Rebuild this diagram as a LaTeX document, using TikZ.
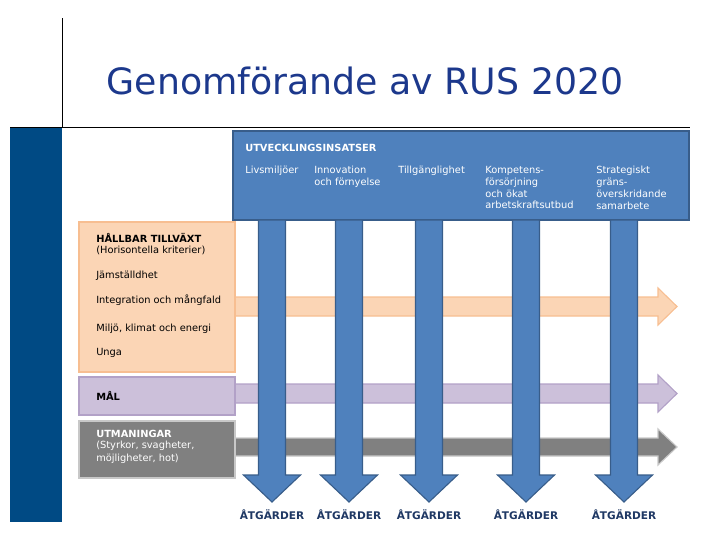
\documentclass[tikz,border=0pt]{standalone}
\usepackage{fontspec}
\setmainfont{DejaVu Sans}
\usepackage{xcolor}
\usetikzlibrary{positioning}

\definecolor{stripeblue}{RGB}{0,74,132}
\definecolor{titleblue}{RGB}{28,56,140}
\definecolor{insatsblue}{RGB}{79,129,189}
\definecolor{insatsline}{RGB}{56,93,138}
\definecolor{atgblue}{RGB}{31,56,100}
\definecolor{orangefill}{RGB}{251,213,181}
\definecolor{orangeline}{RGB}{247,190,145}
\definecolor{lilafill}{RGB}{204,192,218}
\definecolor{lilaline}{RGB}{178,161,199}
\definecolor{grafill}{RGB}{128,128,128}
\definecolor{graline}{RGB}{200,200,200}

\begin{document}
\begin{tikzpicture}[x=0.025cm, y=-0.025cm,
    panel/.style={draw=#1, line width=1.2pt},
    txt/.style={anchor=west, inner sep=0pt, font=\fontsize{7}{9.2}\selectfont, align=left},
    head/.style={txt, font=\fontsize{7}{9.2}\selectfont\bfseries},
    coltxt/.style={anchor=north west, inner sep=0pt, text=white, font=\fontsize{7}{8.4}\selectfont, align=left},
    atg/.style={inner sep=0pt, text=atgblue, font=\fontsize{7.5}{9}\selectfont\bfseries},
]
\useasboundingbox (0,0) rectangle (720,540);

% --- Slide frame ---
\fill[stripeblue] (10,127) rectangle (62,522);
\draw[black, line width=0.6pt] (62,18) -- (62,127);
\draw[black, line width=0.6pt] (10,127) -- (690,127);
\node[text=titleblue, font=\fontsize{25.8}{28}\selectfont] (title) at (365,81) {Genomförande av RUS 2020};

% --- Horizontal arrows (behind) ---
\filldraw[fill=orangefill, draw=orangeline, line width=0.8pt]
  (235,297) -- (658,297) -- (658,288) -- (677,306.5) -- (658,325) -- (658,316) -- (235,316) -- cycle;
\filldraw[fill=lilafill, draw=lilaline, line width=0.8pt]
  (235,384) -- (658,384) -- (658,375) -- (677,393.5) -- (658,412) -- (658,403) -- (235,403) -- cycle;
\filldraw[fill=grafill, draw=graline, line width=0.8pt]
  (235,438) -- (658,438) -- (658,429) -- (677,447) -- (658,465) -- (658,456) -- (235,456) -- cycle;

% --- Left boxes ---
\filldraw[panel=orangeline, fill=orangefill] (79,222) rectangle (235,372);
\node[head] (hallbar) at (96,238) {HÅLLBAR TILLVÄXT};
\node[txt] (horis) at (96,250) {(Horisontella kriterier)};
\node[txt] (jam) at (96,276) {Jämställdhet};
\node[txt] (integ) at (96,300) {Integration och mångfald};
\node[txt] (miljo) at (96,329) {Miljö, klimat och energi};
\node[txt] (unga) at (96,353) {Unga};

\filldraw[panel=lilaline, fill=lilafill] (79,377) rectangle (235,415);
\node[head] (mal) at (96,396) {MÅL};

\filldraw[panel=graline, fill=grafill] (79,421) rectangle (235,478);
\node[head, text=white] (utman) at (96,434) {UTMANINGAR};
\node[txt, anchor=north west, text=white] (styrkor) at (96,441) {(Styrkor, svagheter,\\möjligheter, hot)};

% --- Utvecklingsinsatser ---
\filldraw[fill=insatsblue, draw=insatsline, line width=1pt] (233,131) rectangle (689,220);
\node[head, text=white] (utv) at (245,148) {UTVECKLINGSINSATSER};
\node[coltxt] (livs) at (245,166) {Livsmiljöer};
\node[coltxt] (innov) at (314,166) {Innovation\\och förnyelse};
\node[coltxt] (tillg) at (398,166) {Tillgänglighet};
\node[coltxt] (komp) at (485,166) {Kompetens-\\försörjning\\och ökat\\arbetskraftsutbud};
\node[coltxt] (strat) at (596,166) {Strategiskt\\gräns-\\överskridande\\samarbete};

% --- Vertical arrows ---
\foreach \cx/\name in {272/a, 349/b, 429/c, 526/d, 624/e} {
  \filldraw[fill=insatsblue, draw=insatsline, line width=0.8pt]
    (\cx-13.5,220) -- (\cx+13.5,220) -- (\cx+13.5,475) -- (\cx+28.5,475)
    -- (\cx,502) -- (\cx-28.5,475) -- (\cx-13.5,475) -- cycle;
  \coordinate (tip-\name) at (\cx,502);
  \node[atg, below=5pt of tip-\name] (atg-\name) {ÅTGÄRDER};
}

\end{tikzpicture}
\end{document}
